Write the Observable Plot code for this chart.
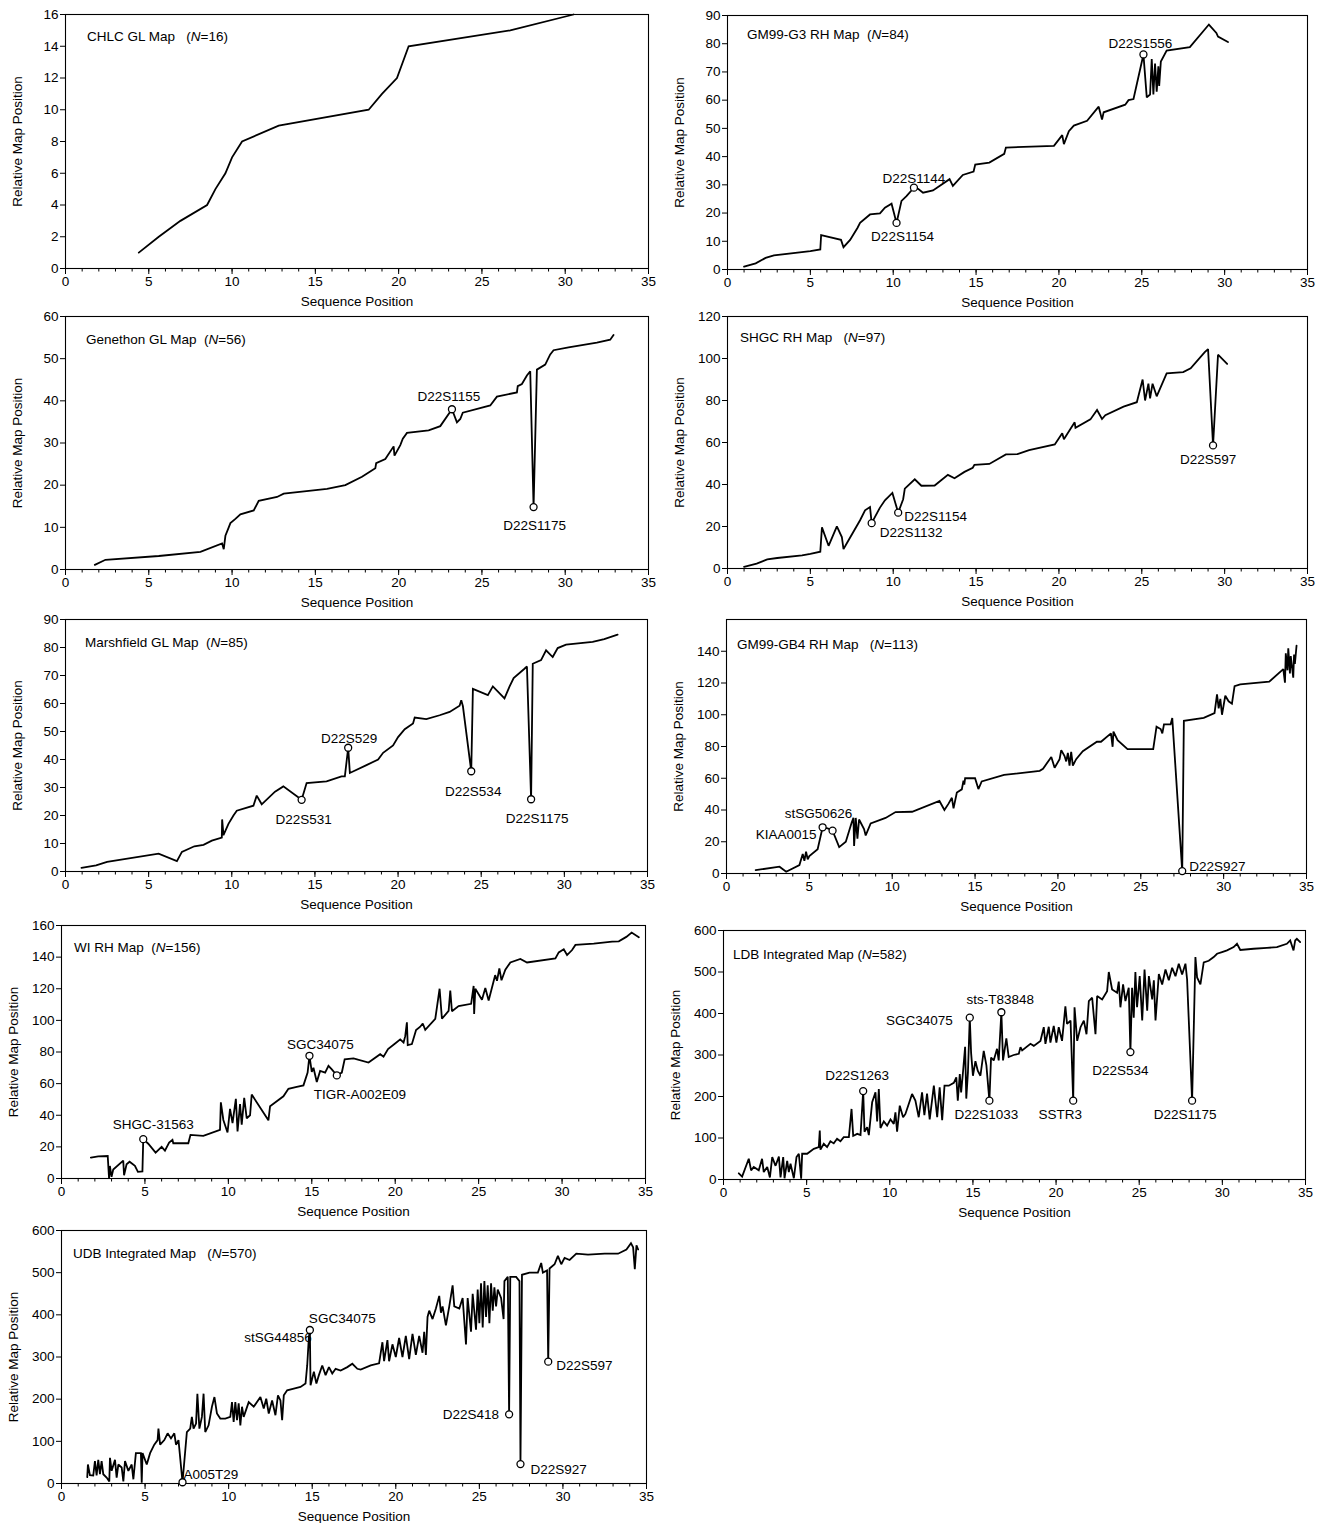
<!DOCTYPE html>
<html><head><meta charset="utf-8">
<script src="https://cdn.jsdelivr.net/npm/d3@7"></script>
<script src="https://cdn.jsdelivr.net/npm/@observablehq/plot@0.6"></script>
<style>
body{margin:0;background:#fff;}
#page{position:relative;width:1323px;height:1523px;background:#fff;font-family:"Liberation Sans",Arial,sans-serif;overflow:hidden;}
.panel{position:absolute;}
.ptitle{position:absolute;font-size:13.5px;line-height:14px;white-space:pre;color:#000;}
</style></head><body><div id="page"></div>
<script>
// ---------- DATA ----------
const xTicks = [0,5,10,15,20,25,30,35];
const chlcTicks = [0,2,4,6,8,10,12,14,16];
const g3Ticks = [0,10,20,30,40,50,60,70,80,90];
const genTicks = [0,10,20,30,40,50,60];
const shgcTicks = [0,20,40,60,80,100,120];
const marTicks = [0,10,20,30,40,50,60,70,80,90];
const gb4Ticks = [0,20,40,60,80,100,120,140];
const wiTicks = [0,20,40,60,80,100,120,140,160];
const ldbTicks = [0,100,200,300,400,500,600];
const udbTicks = [0,100,200,300,400,500,600];

const titles = ["CHLC GL Map","GM99-G3 RH Map","Genethon GL Map","SHGC RH Map","Marshfield GL Map","GM99-GB4 RH Map","WI RH Map","LDB Integrated Map","UDB Integrated Map"];
const counts = [16,84,56,97,85,113,156,582,570];

const chlcPts = [[4.4,1],[5.6,2],[6.9,3],[8.5,4],[9.0,5],[9.6,6],[10.0,7],[10.6,8],[12.8,9],[18.2,10],[19.0,11],[19.9,12],[20.6,14],[26.7,15],[30.5,16]];

const g3Pts = [[1.0,1],[1.7,2.2],[2.3,4.1],[2.8,5],[5.0,6.5],[5.6,7.1],[5.65,12.2],[6.85,10.5],[7.0,7.9],[7.4,10.5],[7.85,14.8],[8.0,16.5],[8.6,19.5],[9.2,19.9],[9.5,21.9],[9.9,23.3],[10.2,16.5],[10.5,24.3],[10.8,26],[11.25,29],[11.5,28.6],[11.8,27.2],[12.4,28],[13.4,32],[13.6,29.6],[14.2,33.5],[14.85,34.7],[14.95,37.2],[15.8,37.9],[16.7,41],[16.8,43.2],[19.7,43.8],[20.2,47.6],[20.3,44.4],[20.6,49],[20.9,51],[21.7,52.7],[22.4,57.7],[22.6,53.1],[22.7,55.7],[24.0,58.4],[24.2,60],[24.5,60.4],[25.1,76.2],[25.3,61],[25.5,62],[25.6,74.6],[25.7,62],[25.8,73],[25.9,63],[26.0,72],[26.05,65],[26.15,73.7],[26.5,77.6],[27.9,78.8],[29.05,86.8],[29.5,83.8],[29.6,82.5],[30.2,80.6]];
const g3Marks = [["D22S1154",10.2,16.5],["D22S1144",11.25,29],["D22S1556",25.1,76.2]];

const genPts = [[1.76,1.1],[2.4,2.3],[5.6,3.2],[8.1,4.2],[9.4,6.2],[9.5,4.8],[9.6,8],[9.8,10],[9.9,11],[10.2,12],[10.5,13.1],[11.3,14],[11.6,16.3],[12.7,17.2],[13.1,18],[15.7,19.1],[16.8,20],[17.8,22],[18.2,23],[18.6,24],[18.65,25.2],[19.2,26.2],[19.7,29.2],[19.75,27],[20.1,29.5],[20.25,31],[20.5,32.4],[21.8,33],[22.5,34],[23.2,38],[23.5,34.9],[23.7,35.7],[23.85,37.2],[25.5,38.9],[25.9,41],[27.1,42],[27.15,43.5],[27.4,44],[27.7,46],[27.9,47],[28.1,14.8],[28.3,47.4],[28.8,48.6],[29.1,51],[29.3,52],[30.2,52.7],[31.9,53.8],[32.7,54.5],[32.9,55.6]];
const genMarks = [["D22S1155",23.2,38],["D22S1175",28.1,14.8]];

const shgcPts = [[1.0,0.8],[1.76,2.3],[2.4,4.3],[3.0,5],[4.5,6.3],[5.0,7],[5.6,8],[5.7,19.6],[6.1,10.8],[6.6,20.1],[6.9,15],[7.0,9.2],[7.2,12],[8.0,23],[8.3,27.7],[8.6,29.3],[8.7,21.6],[9.2,29],[9.5,32.5],[9.95,36],[10.3,26.6],[10.6,33],[10.7,38],[11.3,42.5],[11.7,39.4],[12.5,39.5],[13.3,44.6],[13.7,43],[14.3,46],[14.8,48],[14.9,49.4],[15.8,49.8],[16.8,54.3],[17.5,54.5],[18.2,56.4],[19.75,59.1],[20.2,64.4],[20.3,61.5],[20.95,69.6],[21.0,67],[21.9,71],[22.3,75.5],[22.6,71.2],[22.8,73],[23.9,77.1],[24.7,79.2],[25.05,90],[25.2,80],[25.4,88],[25.5,81],[25.65,88],[25.9,82],[26.5,92.9],[27.5,93.5],[27.95,95.3],[28.8,103],[29.0,104.5],[29.3,58.6],[29.6,101.8],[30.15,97.4]];
const shgcMarks = [["D22S1132",8.7,21.6],["D22S1154",10.3,26.6],["D22S597",29.3,58.6]];

const marPts = [[0.96,1.3],[1.84,2.2],[2.5,3.4],[5.6,6.4],[6.7,3.7],[7.0,7],[7.75,9],[8.3,9.5],[8.8,11],[9.4,12.1],[9.42,18.6],[9.5,13],[9.8,17],[10.1,20],[10.3,21.7],[11.3,23.5],[11.5,27.1],[11.8,24],[12.6,28.5],[13.1,30.4],[14.2,25.6],[14.5,31.6],[15.7,32.2],[16.6,34],[16.8,34],[17.0,44.2],[17.1,35.2],[18.1,38],[18.8,40],[19.1,42.4],[19.7,45],[20.0,48],[20.4,50.8],[20.9,52.9],[21.0,55],[21.7,54.4],[22.5,55.8],[23.1,57],[23.7,59.2],[23.8,61.2],[23.9,59],[24.4,35.8],[24.5,65.2],[25.4,63],[25.7,66.1],[26.4,61.8],[26.7,66],[26.95,69.1],[27.6,72.4],[27.75,73.2],[28.0,25.8],[28.1,74.2],[28.6,75.5],[28.9,79],[29.3,76.6],[29.6,79.8],[30.1,81],[31.7,82],[32.4,83],[33.2,84.6]];
const marMarks = [["D22S531",14.2,25.6],["D22S529",17.0,44.2],["D22S534",24.4,35.8],["D22S1175",28.0,25.8]];

const gb4Pts = [[1.76,2.1],[3.2,4.3],[3.6,1.1],[4.4,5.3],[4.6,12.3],[4.7,8],[4.8,13.8],[4.9,9],[5.0,11],[5.5,15.3],[5.8,29.1],[6.1,28.5],[6.4,27],[6.8,16.6],[7.2,20],[7.55,31.9],[7.66,35.1],[7.7,17.4],[7.8,35],[7.9,22],[8.0,34],[8.3,28],[8.4,24],[8.7,31.5],[9.6,35],[10.2,38.7],[11.2,38.9],[12.85,45.7],[13.15,40],[13.4,44],[13.6,47.7],[13.7,41],[13.9,51],[14.2,53],[14.3,58.5],[14.35,56],[14.4,60],[15.0,60],[15.2,53.2],[15.4,58],[16.75,62.1],[18.9,64.7],[19.1,66],[19.6,73.4],[19.8,66.6],[20.1,72],[20.2,77.7],[20.4,74],[20.5,70.6],[20.6,76],[20.7,68],[20.8,76.6],[20.9,68],[21.1,72],[21.5,77],[22.35,83],[22.6,83],[23.2,88.3],[23.3,79.8],[23.35,89.4],[23.6,84],[24.2,78.3],[25.75,78.3],[25.95,92.5],[26.2,91],[26.3,88.3],[26.4,94],[26.8,94],[26.9,97.9],[27.5,1.5],[27.6,96.2],[28.8,98],[29.45,101],[29.6,112.8],[29.7,104],[29.8,110],[29.9,100],[30.1,112],[30.3,108.5],[30.5,107],[30.66,118],[31.0,119.1],[32.75,120.8],[33.6,128.7],[33.7,120.2],[33.75,138.7],[33.85,128],[33.9,141.9],[34.0,126],[34.05,137],[34.2,123.4],[34.25,138],[34.3,132],[34.4,143.6]];
const gb4Marks = [["KIAA0015",5.8,29.1],["stSG50626",6.4,27],["D22S927",27.5,1.5]];

const wiPts = [[1.76,13.2],[2.2,14],[2.77,14.2],[2.85,0],[2.9,7.9],[3.0,1],[3.1,5.7],[3.7,11.3],[3.75,2.1],[3.9,9],[4.08,10.6],[4.4,8],[4.58,4.2],[4.85,4.5],[4.9,24.9],[5.2,22],[5.64,16.4],[6.0,20],[6.2,17.6],[6.45,22.7],[6.65,24.4],[6.7,22.3],[7.6,22.3],[7.73,27.6],[8.5,27],[9.5,30.8],[9.55,48.2],[9.7,37],[9.95,29.1],[10.1,44],[10.25,35],[10.45,50.4],[10.55,29.7],[10.7,47],[10.8,34],[10.95,51],[11.1,38],[11.3,40],[11.4,53.1],[12.4,36.8],[12.5,45.7],[13.3,52],[13.6,56.7],[14.1,58],[14.5,58.9],[14.75,67],[14.86,77.6],[15.0,67.4],[15.1,70],[15.3,61],[15.5,68],[15.8,67],[16.0,71.2],[16.2,69],[16.5,65.2],[16.8,67],[16.97,75.4],[17.5,76],[18.4,73.3],[19.1,78.6],[19.3,77],[19.57,81.8],[20.07,86],[20.3,88],[20.5,86],[20.6,90],[20.7,98.8],[20.75,84.4],[21.0,85],[21.25,93.9],[21.5,96],[21.65,98],[21.8,94],[22.4,100.9],[22.66,120],[22.8,101],[23.2,106],[23.3,118.8],[23.4,105.8],[23.8,109],[24.55,110.5],[24.7,121.8],[24.73,104.1],[24.8,120],[25.2,113],[25.4,120.5],[25.6,112.6],[25.99,128.6],[26.1,125],[26.24,132.8],[26.37,125.4],[26.6,132],[26.9,136.6],[27.5,138.8],[27.9,136.6],[29.6,139.2],[29.8,143],[30.1,145],[30.3,141.3],[30.6,144.5],[30.8,147.7],[31.9,148.5],[33.0,149.8],[33.4,150],[33.85,152.8],[34.17,155.5],[34.6,152.6]];
const wiMarks = [["SHGC-31563",4.9,24.9],["SGC34075",14.86,77.6],["TIGR-A002E09",16.5,65.2]];

const ldbPts = [[0.92,15],[1.12,7],[1.52,50],[1.66,22],[1.82,30],[2.12,22],[2.32,50],[2.42,18],[2.63,30],[2.79,5],[2.93,54],[3.13,33],[3.33,55],[3.43,5],[3.59,54],[3.67,3],[3.83,45],[3.93,18],[4.03,38],[4.23,3],[4.39,54],[4.53,62],[4.67,2],[4.73,62],[5.03,62],[5.43,74],[5.73,78],[5.79,118],[5.83,72],[6.03,86],[6.23,78],[6.43,92],[6.63,87],[6.83,98],[7.03,92],[7.23,102],[7.54,102],[7.7,170],[7.8,105],[8.04,110],[8.24,107],[8.4,213],[8.48,115],[8.64,126],[8.74,107],[8.94,186],[9.14,210],[9.24,140],[9.34,218],[9.44,124],[9.64,140],[9.84,130],[10.04,145],[10.24,134],[10.34,162],[10.44,115],[10.6,178],[10.8,150],[10.94,158],[11.14,182],[11.34,206],[11.54,190],[11.74,150],[11.94,210],[12.08,155],[12.24,207],[12.4,145],[12.65,226],[12.85,150],[13.0,222],[13.15,143],[13.29,226],[13.55,226],[13.85,233],[14.0,246],[14.09,190],[14.21,254],[14.29,210],[14.41,262],[14.53,320],[14.6,195],[14.7,258],[14.81,390],[14.89,305],[15.0,250],[15.15,285],[15.29,262],[15.45,250],[15.65,310],[15.81,275],[15.99,190],[16.09,294],[16.25,287],[16.45,315],[16.55,287],[16.71,403],[16.81,287],[17.01,340],[17.15,295],[17.45,300],[17.76,303],[17.86,319],[17.96,311],[18.46,327],[18.66,322],[19.06,334],[19.26,367],[19.36,327],[19.56,368],[19.66,330],[19.86,370],[20.02,330],[20.16,367],[20.36,334],[20.56,417],[20.66,375],[20.87,383],[21.03,190],[21.11,415],[21.27,334],[21.47,367],[21.67,383],[21.83,350],[21.97,430],[22.17,438],[22.37,350],[22.47,442],[22.77,434],[23.07,454],[23.17,500],[23.37,458],[23.67,450],[23.77,477],[23.87,415],[24.03,470],[24.17,430],[24.37,462],[24.47,307],[24.57,462],[24.67,390],[24.77,500],[24.87,415],[25.03,490],[25.18,383],[25.32,506],[25.48,407],[25.58,490],[25.78,434],[25.88,480],[25.98,383],[26.18,495],[26.38,470],[26.58,506],[26.78,480],[26.98,510],[27.18,490],[27.38,520],[27.58,494],[27.78,520],[27.88,482],[28.18,190],[28.38,536],[28.48,487],[28.68,470],[28.88,523],[29.18,527],[29.48,536],[29.68,544],[29.98,548],[30.28,552],[30.68,560],[30.88,568],[31.08,553],[31.88,556],[32.68,558],[33.28,560],[33.88,568],[34.08,576],[34.28,552],[34.38,576],[34.48,580],[34.68,572]];
const ldbMarks = [["D22S1263",8.4,213],["SGC34075",14.81,390],["D22S1033",15.99,190],["sts-T83848",16.71,403],["SSTR3",21.03,190],["D22S534",24.47,307],["D22S1175",28.18,190]];

const udbPts = [[1.54,15],[1.58,45],[1.7,20],[1.9,19],[2.0,53],[2.1,19],[2.2,56],[2.3,22],[2.4,53],[2.5,22],[2.7,14],[2.86,5],[2.9,61],[3.0,30],[3.2,56],[3.3,14],[3.4,45],[3.6,38],[3.7,5],[3.8,53],[4.0,30],[4.2,45],[4.3,10],[4.45,72],[4.75,72],[4.8,2],[4.85,72],[5.1,45],[5.3,72],[5.55,92],[5.75,103],[5.8,130],[5.9,92],[6.15,103],[6.35,119],[6.55,107],[6.75,119],[6.85,92],[7.0,103],[7.24,3],[7.5,122],[7.7,130],[7.8,158],[7.9,130],[8.05,142],[8.13,213],[8.25,130],[8.4,158],[8.5,213],[8.6,122],[8.8,138],[9.0,182],[9.15,205],[9.3,166],[9.5,154],[9.8,154],[10.1,158],[10.2,193],[10.3,146],[10.4,193],[10.5,150],[10.6,190],[10.7,138],[10.8,182],[10.9,158],[11.2,193],[11.5,182],[11.9,205],[12.1,178],[12.25,201],[12.4,166],[12.6,197],[12.8,162],[12.95,209],[13.1,197],[13.2,150],[13.3,209],[13.5,221],[13.9,225],[14.3,229],[14.6,237],[14.7,280],[14.8,347],[14.86,364],[14.9,233],[15.1,265],[15.25,237],[15.4,257],[15.6,280],[15.8,257],[16.0,276],[16.2,261],[16.4,272],[16.7,268],[17.1,276],[17.4,284],[17.7,272],[17.9,270],[18.5,280],[19.0,285],[19.2,335],[19.3,290],[19.5,340],[19.6,290],[19.8,330],[20.0,300],[20.2,345],[20.4,300],[20.6,350],[20.8,295],[21.0,355],[21.2,305],[21.4,350],[21.6,310],[21.7,360],[21.8,305],[21.9,395],[22.0,410],[22.2,390],[22.4,415],[22.6,445],[22.7,405],[22.8,420],[23.0,375],[23.2,420],[23.4,470],[23.5,420],[23.8,415],[24.0,440],[24.2,330],[24.3,440],[24.5,360],[24.6,450],[24.8,365],[24.9,460],[25.0,380],[25.1,475],[25.2,370],[25.3,480],[25.4,395],[25.5,470],[25.6,380],[25.7,475],[25.8,410],[25.9,465],[26.0,420],[26.1,460],[26.3,440],[26.45,390],[26.5,480],[26.7,490],[26.78,164],[26.85,490],[27.2,490],[27.4,480],[27.46,46],[27.55,495],[28.0,500],[28.5,500],[28.7,523],[28.8,500],[29.05,505],[29.12,289],[29.2,510],[29.5,520],[29.7,540],[29.9,520],[30.1,535],[30.4,530],[30.8,545],[31.5,543],[32.5,545],[33.3,545],[33.8,555],[34.07,570],[34.2,560],[34.3,508],[34.4,565],[34.5,555]];
const udbMarks = [["A005T29",7.24,3],["SGC34075",14.86,364],["D22S418",26.78,164],["D22S927",27.46,46],["D22S597",29.12,289]];
const udbTextOnly = [["stSG44856",14.8,347]];

// ---------- LAYOUT (positions/styles) ----------
const labelLayout = {
  "g3:D22S1154":["middle",6,14], "g3:D22S1144":["middle",0,-9], "g3:D22S1556":["middle",-3,-11],
  "gen:D22S1155":["middle",-3,-13], "gen:D22S1175":["middle",1,19],
  "shgc:D22S1132":["start",8,10], "shgc:D22S1154":["start",6,4], "shgc:D22S597":["middle",-5,14],
  "mar:D22S529":["middle",1,-9], "mar:D22S531":["middle",2,20], "mar:D22S534":["middle",2,20], "mar:D22S1175":["middle",6,19],
  "gb4:KIAA0015":["end",-6,7], "gb4:stSG50626":["middle",-14,-17], "gb4:D22S927":["start",7,-4],
  "wi:SHGC-31563":["middle",10,-14], "wi:SGC34075":["middle",11,-11], "wi:TIGR-A002E09":["start",-23,19],
  "ldb:D22S1263":["middle",-6,-15], "ldb:SGC34075":["end",-17,3], "ldb:sts-T83848":["middle",-1,-13],
  "ldb:D22S1033":["middle",-3,14], "ldb:SSTR3":["middle",-13,14], "ldb:D22S534":["middle",-10,19], "ldb:D22S1175":["middle",-7,14],
  "udb:A005T29":["start",1,-8], "udb:SGC34075":["start",-1,-11], "udb:stSG44856":["end",3,0],
  "udb:D22S418":["end",-10,0], "udb:D22S927":["start",10,6], "udb:D22S597":["start",8,4]
};

const panels = [
  {id:"chlc", pts:chlcPts, marks:[], ticks:chlcTicks, yMax:16, box:[65,648,14,268], tpos:[87,37], gap:3},
  {id:"g3", pts:g3Pts, marks:g3Marks, ticks:g3Ticks, yMax:90, box:[727,1307,15,269], tpos:[747,35], gap:2},
  {id:"gen", pts:genPts, marks:genMarks, ticks:genTicks, yMax:60, box:[65,648,316,569], tpos:[86,340], gap:2},
  {id:"shgc", pts:shgcPts, marks:shgcMarks, ticks:shgcTicks, yMax:120, box:[727,1307,316,568], tpos:[740,338], gap:3},
  {id:"mar", pts:marPts, marks:marMarks, ticks:marTicks, yMax:90, box:[65,647,619,871], tpos:[85,643], gap:2},
  {id:"gb4", pts:gb4Pts, marks:gb4Marks, ticks:gb4Ticks, yMax:160, box:[726,1306,619,873], tpos:[737,645], gap:3},
  {id:"wi", pts:wiPts, marks:wiMarks, ticks:wiTicks, yMax:160, box:[61,645,925,1178], tpos:[74,948], gap:2},
  {id:"ldb", pts:ldbPts, marks:ldbMarks, ticks:ldbTicks, yMax:600, box:[723,1305,930,1179], tpos:[733,955], gap:1},
  {id:"udb", pts:udbPts, marks:udbMarks, extra:udbTextOnly, ticks:udbTicks, yMax:600, box:[61,646,1230,1483], tpos:[73,1254], gap:3}
];

const page = document.getElementById("page");
const mL = 62, mR = 14, mT = 12, mB = 48;
const FONT = "Liberation Sans, Arial, Helvetica, sans-serif";

panels.forEach((p, i) => {
  const [x0, x1, top, bottom] = p.box;
  const W = x1 - x0 + mL + mR, H = bottom - top + mT + mB;
  const pts = p.pts.map(([x, y]) => ({x, y}));
  const circ = p.marks.map(([name, x, y]) => ({name, x, y}));
  const labels = [...p.marks, ...(p.extra || [])].map(([name, x, y]) => {
    const [anchor, dx, dy] = labelLayout[p.id + ":" + name];
    return Plot.text([{name, x, y}], {x: "x", y: "y", text: "name", textAnchor: anchor, dx, dy, fontSize: 13.5, fill: "#000"});
  });
  const svg = Plot.plot({
    width: W, height: H, marginLeft: mL, marginRight: mR, marginTop: mT, marginBottom: mB,
    style: {fontFamily: FONT, fontSize: "13.5px", background: "transparent", color: "#000", overflow: "visible"},
    x: {domain: [0, 35]},
    y: {domain: [0, p.yMax]},
    marks: [
      Plot.frame({stroke: "#000", strokeWidth: 1.1}),
      Plot.axisX({ticks: d3.range(0, 36, 1), tickSize: 3.5, tickFormat: () => "", label: null}),
      Plot.axisX({ticks: xTicks, tickSize: 6, tickPadding: 2, label: "Sequence Position", labelAnchor: "center", labelOffset: 37, labelArrow: "none"}),
      Plot.axisY({ticks: p.ticks, tickSize: 5, tickPadding: 2, label: "Relative Map Position", labelAnchor: "center", labelOffset: 53, labelArrow: "none"}),
      Plot.line(pts, {x: "x", y: "y", stroke: "#000", strokeWidth: 1.8, strokeLinejoin: "miter", strokeMiterlimit: 2}),
      Plot.dot(circ, {x: "x", y: "y", r: 3.5, stroke: "#000", fill: "#fff", strokeWidth: 1.3}),
      ...labels
    ]
  });
  const wrap = document.createElement("div");
  wrap.className = "panel";
  wrap.style.left = (x0 - mL) + "px";
  wrap.style.top = (top - mT) + "px";
  wrap.appendChild(svg);
  page.appendChild(wrap);

  const t = document.createElement("div");
  t.className = "ptitle";
  t.innerHTML = titles[i] + "\u00a0".repeat(p.gap) + "(<i>N</i>=" + counts[i] + ")";
  t.style.left = p.tpos[0] + "px";
  t.style.top = (p.tpos[1] - 7) + "px";
  page.appendChild(t);
});
</script>
</body></html>
